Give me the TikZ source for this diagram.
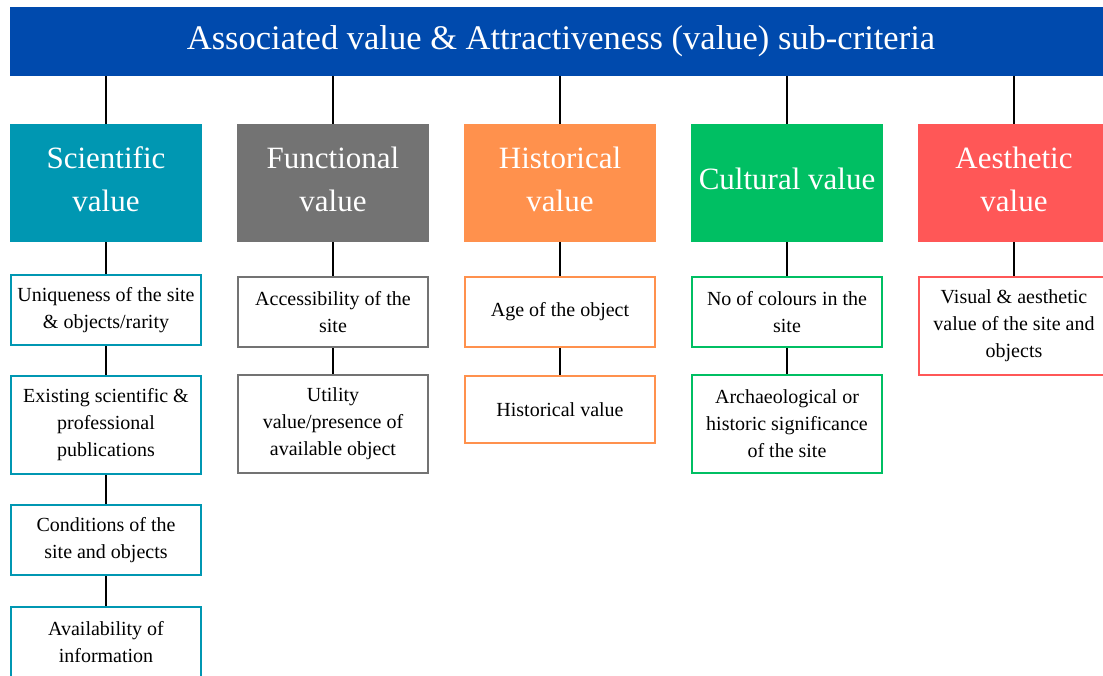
\documentclass[tikz,border=0pt]{standalone}
\usepackage{fontspec}
\setmainfont{Liberation Serif}
\usepackage{xcolor}
\usepackage{tikz}

\definecolor{headblue}{HTML}{004AAD}
\definecolor{scicol}{HTML}{0097B2}
\definecolor{funcol}{HTML}{737373}
\definecolor{hiscol}{HTML}{FF914D}
\definecolor{culcol}{HTML}{00BF63}
\definecolor{aescol}{HTML}{FF5757}

\tikzset{
  head/.style={rectangle, anchor=north, inner sep=0pt, fill=headblue, text=white,
    minimum width=1102pt, minimum height=69pt, font=\fontsize{34.5}{40}\selectfont},
  cat/.style={rectangle, anchor=north, inner sep=0pt, text=white, align=center,
    text depth=8pt, minimum width=192pt, minimum height=118pt,
    font=\fontsize{31}{43}\selectfont},
  sub/.style={rectangle, anchor=north, inner sep=0pt, draw, line width=2pt, fill=white,
    align=center, minimum width=190pt, minimum height=70pt, font=\fontsize{20}{27}\selectfont},
  link/.style={black, line width=2.2pt},
}

\begin{document}
\begin{tikzpicture}[x=1pt, y=-1pt]
\useasboundingbox (0,0) rectangle (1103,675);

\node[head] (head) at (561,7) {Associated value \& Attractiveness (value) sub-criteria};

% the five values
\node[cat, fill=scicol] (sci) at (106,124) {Scientific\\value};
\node[cat, fill=funcol] (fun) at (333,124) {Functional\\value};
\node[cat, fill=hiscol] (his) at (560,124) {Historical\\value};
\node[cat, fill=culcol] (cul) at (787,124) {Cultural value};
\node[cat, fill=aescol] (aes) at (1014,124) {Aesthetic\\value};

% sub-criteria
\node[sub, draw=scicol] (sci1) at (106,274) {Uniqueness of the site\\\& objects/rarity};
\node[sub, draw=scicol, minimum height=98pt] (sci2) at (106,375) {Existing scientific \&\\professional\\publications};
\node[sub, draw=scicol] (sci3) at (106,504) {Conditions of the\\site and objects};
\node[sub, draw=scicol] (sci4) at (106,606) {Availability of\\information};

\node[sub, draw=funcol] (fun1) at (333,276) {Accessibility of the\\site};
\node[sub, draw=funcol, minimum height=98pt] (fun2) at (333,374) {Utility\\value/presence of\\available object};

\node[sub, draw=hiscol] (his1) at (560,276) {Age of the object};
\node[sub, draw=hiscol, minimum height=67pt] (his2) at (560,375) {Historical value};

\node[sub, draw=culcol] (cul1) at (787,276) {No of colours in the\\site};
\node[sub, draw=culcol, minimum height=98pt] (cul2) at (787,374) {Archaeological or\\historic significance\\of the site};

\node[sub, draw=aescol, minimum height=98pt] (aes1) at (1014,276) {Visual \& aesthetic\\value of the site and\\objects};

% connectors
\foreach \c in {sci,fun,his,cul,aes}
  \draw[link] (head.south -| \c.north) -- (\c.north);
\draw[link] (sci.south) -- (sci1.north);
\draw[link] (sci1.south) -- (sci2.north);
\draw[link] (sci2.south) -- (sci3.north);
\draw[link] (sci3.south) -- (sci4.north);
\draw[link] (fun.south) -- (fun1.north);
\draw[link] (fun1.south) -- (fun2.north);
\draw[link] (his.south) -- (his1.north);
\draw[link] (his1.south) -- (his2.north);
\draw[link] (cul.south) -- (cul1.north);
\draw[link] (cul1.south) -- (cul2.north);
\draw[link] (aes.south) -- (aes1.north);
\end{tikzpicture}
\end{document}
